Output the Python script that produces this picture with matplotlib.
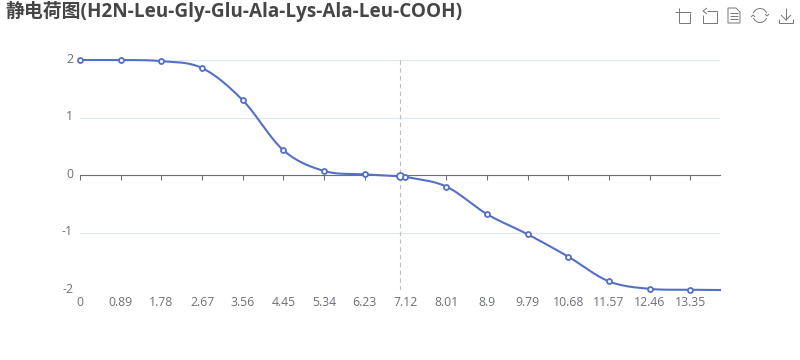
import matplotlib
matplotlib.use("Agg")
import matplotlib.pyplot as plt
import numpy as np
from matplotlib.patches import Arc, Polygon
from matplotlib.transforms import ScaledTranslation

ph = [0, 0.89, 1.78, 2.67, 3.56, 4.45, 5.34, 6.23, 7.0, 7.12, 8.01, 8.9, 9.79, 10.68, 11.57, 12.46, 13.35, 14]
charge = [2.0, 2.0, 1.98, 1.86, 1.30, 0.43, 0.07, 0.01, -0.02, -0.03, -0.2, -0.68, -1.03, -1.42, -1.85, -1.98, -1.995, -2.0]
x_ticks = [0, 0.89, 1.78, 2.67, 3.56, 4.45, 5.34, 6.23, 7.12, 8.01, 8.9, 9.79, 10.68, 11.57, 12.46, 13.35]
x_labels = ["0", "0.89", "1.78", "2.67", "3.56", "4.45", "5.34", "6.23", "7.12", "8.01", "8.9", "9.79", "10.68", "11.57", "12.46", "13.35"]
y_ticks = [-2, -1, 0, 1, 2]
y_labels = ["-2", "-1", "0", "1", "2"]
title = "静电荷图(H2N-Leu-Gly-Glu-Ala-Lys-Ala-Leu-COOH)"
hover_x = 7.0

BLUE = "#5470C6"
AXIS = "#6E7079"
GRID = "#E0E6F1"
ICON = "#777777"

plt.rcParams["font.family"] = ["Open Sans", "Noto Sans CJK SC", "DejaVu Sans"]

fig = plt.figure(figsize=(8, 3.6), dpi=100)
ax = fig.add_axes([80 / 800, 1 - 290 / 360, 640 / 800, 230 / 360])
ax.set_xlim(0, 14)
ax.set_ylim(-2, 2)
for side in ["top", "left", "right"]:
    ax.spines[side].set_visible(False)
ax.spines["bottom"].set_position(("data", 0))
ax.spines["bottom"].set_color(AXIS)
ax.spines["bottom"].set_linewidth(0.8)
ax.spines["bottom"].set_zorder(2)

ax.set_xticks(x_ticks)
ax.set_xticklabels([])
ax.tick_params(axis="x", length=3.6, width=0.8, color=AXIS)
ax.set_yticks(y_ticks)
ax.set_yticklabels(y_labels, color=AXIS, fontsize=8.8)
ax.tick_params(axis="y", length=0, pad=5)
ax.grid(axis="y", color=GRID, linewidth=0.8, zorder=1)
ax.set_axisbelow(True)

# y labels sit a little above their grid lines in the reference
shift = ScaledTranslation(0, 1.5 / 72, fig.dpi_scale_trans)
for lab in ax.get_yticklabels():
    lab.set_transform(lab.get_transform() + shift)

# x labels sit at the bottom of the plot, the axis line stays on zero
for t, lab in zip(x_ticks, x_labels):
    ax.annotate(lab, xy=(t, -2), xytext=(0, -13), textcoords="offset pixels", ha="center", va="center",
                color=AXIS, fontsize=8.8, annotation_clip=False)

ax.axvline(hover_x, color="#B8BDD0", linewidth=0.8, linestyle=(0, (4, 3)), zorder=2)

# smooth curve through the points: cubic hermite between neighbours, only for drawing the line
slopes = [0.0]
for i in range(1, len(ph) - 1):
    slopes.append((charge[i + 1] - charge[i - 1]) / (ph[i + 1] - ph[i - 1]))
slopes.append(0.0)
curve_x = []
curve_y = []
t = np.linspace(0, 1, 30)
for i in range(len(ph) - 1):
    h = ph[i + 1] - ph[i]
    curve_x.extend(ph[i] + t * h)
    curve_y.extend((2 * t**3 - 3 * t**2 + 1) * charge[i] + (t**3 - 2 * t**2 + t) * h * slopes[i]
                   + (-2 * t**3 + 3 * t**2) * charge[i + 1] + (t**3 - t**2) * h * slopes[i + 1])
ax.plot(curve_x, curve_y, color=BLUE, linewidth=1.5, zorder=3, clip_on=False)

for px, py in zip(ph[:-1], charge[:-1]):
    size = 5.0 if px == hover_x else 3.6
    marker = ax.plot([px], [py], "o", ms=size, mfc="white", mec=BLUE, mew=1.3, zorder=4, clip_on=False)[0]
    marker.set_snap(False)

# title and toolbox in pixel coordinates
over = fig.add_axes([0, 0, 1, 1], facecolor="none")
over.set_xlim(0, 800)
over.set_ylim(360, 0)
over.axis("off")
over.text(5, 12, title, fontsize=13.6, fontweight="bold", color="#464646", ha="left", va="center")


def icon_line(xs, ys):
    over.plot(xs, ys, color=ICON, linewidth=0.7, solid_capstyle="butt")


# zoom
icon_line([675, 691], [12, 12])
icon_line([679, 679], [8, 23])
icon_line([679, 690, 690], [23, 23, 13])
# back
icon_line([707, 717, 717, 703, 703], [11, 11, 23, 23, 15])
icon_line([707, 703, 707], [8, 11, 14])
# data view
over.add_patch(Polygon([(728, 8), (736, 8), (740, 12), (740, 23), (728, 23)], fill=False, edgecolor=ICON, linewidth=0.7))
for yy in [13, 16, 19]:
    icon_line([730, 738], [yy, yy])
# refresh
over.add_patch(Arc((760, 15.5), 14, 14, theta1=200, theta2=340, edgecolor=ICON, linewidth=0.7))
over.add_patch(Arc((760, 15.5), 14, 14, theta1=20, theta2=160, edgecolor=ICON, linewidth=0.7))
icon_line([765, 767, 769], [14, 16, 14])
icon_line([751, 753, 755], [17, 15, 17])
# save
icon_line([786, 786], [8, 20])
icon_line([781, 786, 791], [15, 20, 15])
icon_line([779, 779, 793, 793], [19, 23, 23, 19])

fig.savefig("out.png", dpi=100, facecolor="white")
